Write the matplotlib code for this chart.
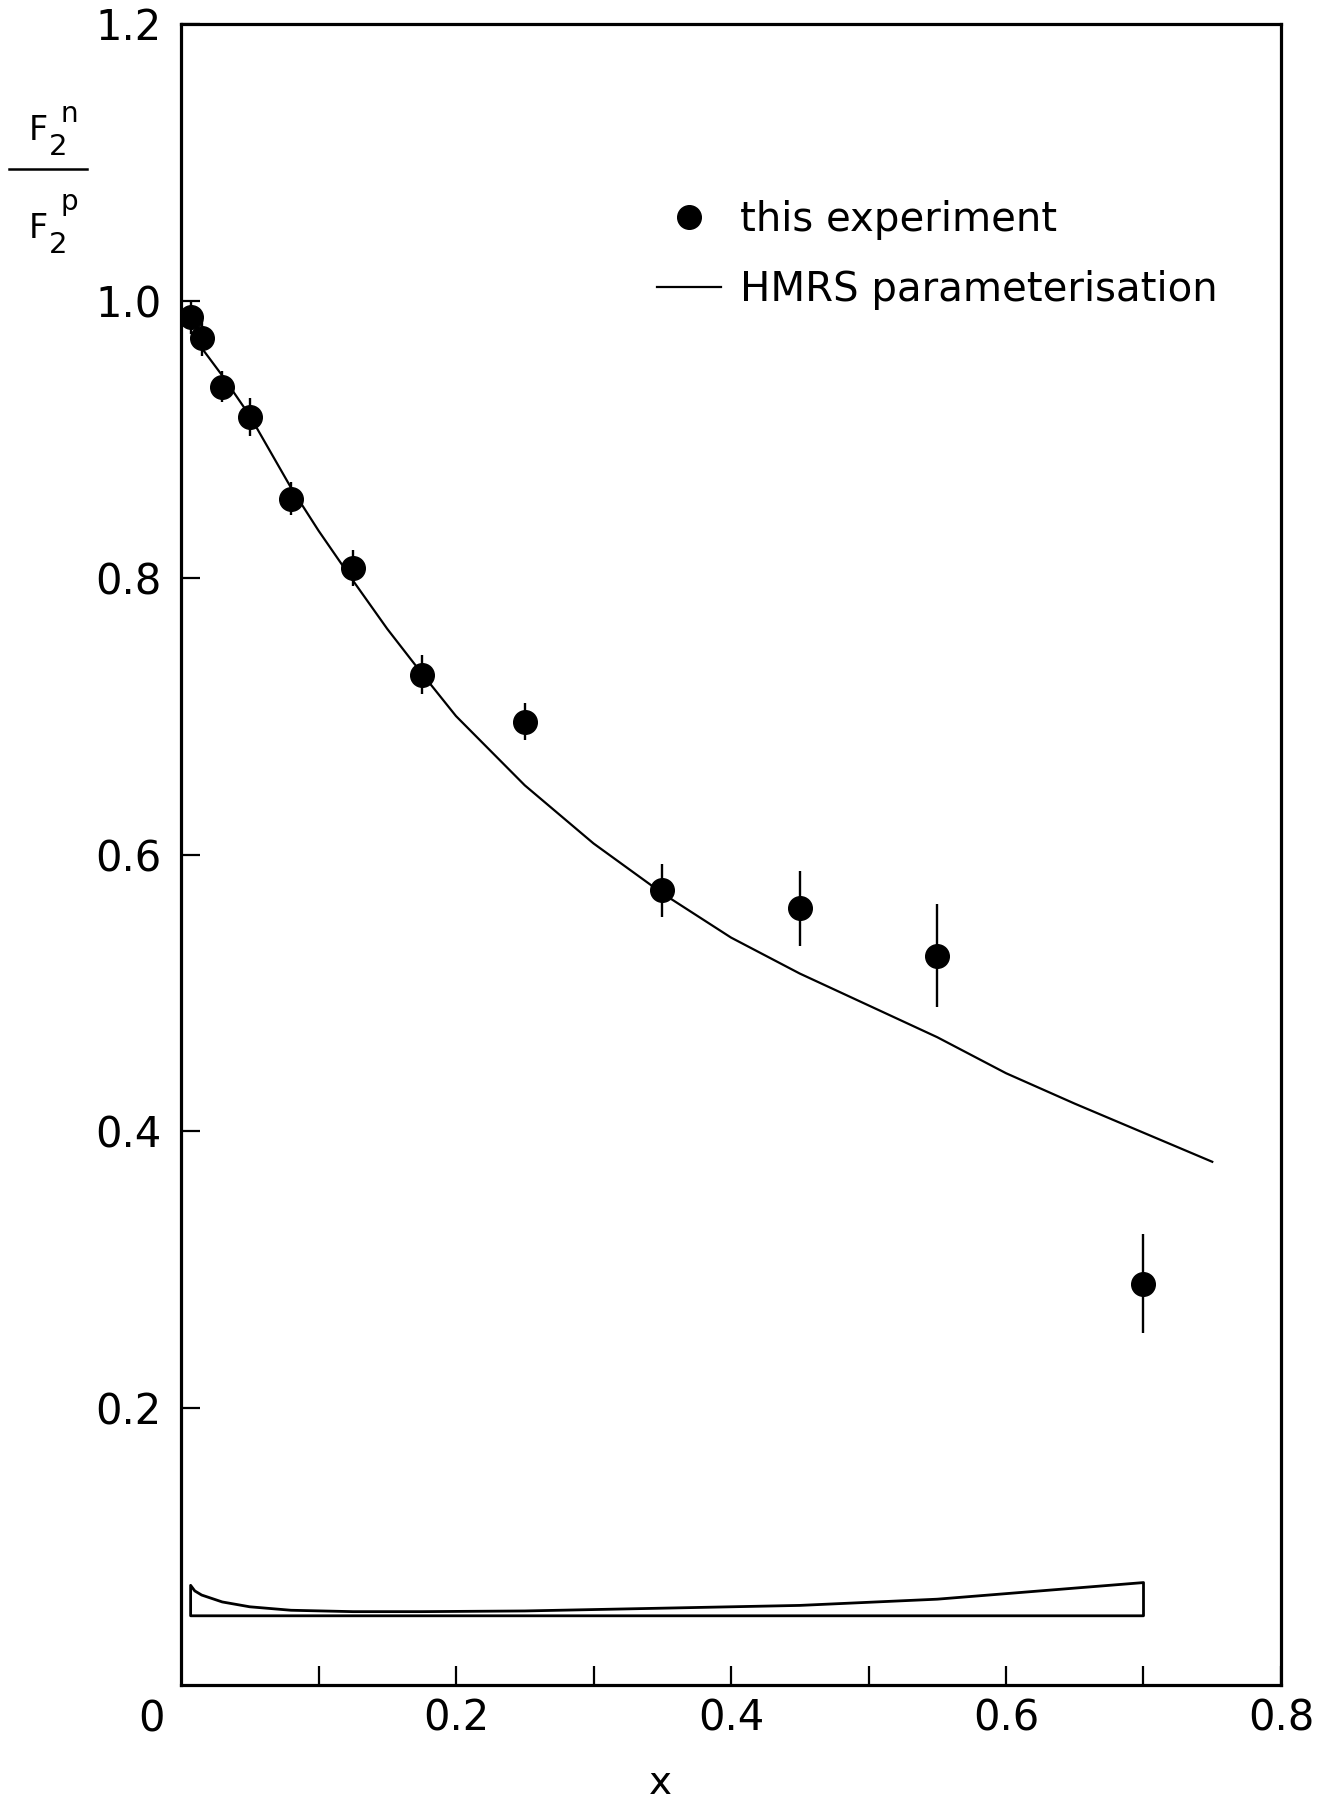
import numpy as np
import matplotlib
matplotlib.use("Agg")
import matplotlib.pyplot as plt
from matplotlib.lines import Line2D

# measured ratio F2n/F2p
x = [0.007, 0.015, 0.03, 0.05, 0.08, 0.125, 0.175, 0.25, 0.35, 0.45, 0.55, 0.70]
ratio = [0.988, 0.973, 0.938, 0.916, 0.857, 0.807, 0.730, 0.696, 0.574, 0.561, 0.527, 0.290]
stat_err = [0.012, 0.013, 0.011, 0.014, 0.012, 0.013, 0.014, 0.0135, 0.019, 0.027, 0.037, 0.036]

# HMRS parameterisation
hmrs_x = [0.015, 0.03, 0.05, 0.08, 0.10, 0.125, 0.15, 0.175, 0.20, 0.25, 0.30,
          0.35, 0.40, 0.45, 0.50, 0.55, 0.60, 0.65, 0.70, 0.75]
hmrs_y = [0.966, 0.946, 0.917, 0.865, 0.834, 0.798, 0.763, 0.731, 0.700, 0.650, 0.608,
          0.572, 0.540, 0.514, 0.491, 0.468, 0.442, 0.420, 0.399, 0.378]

# systematic error band (drawn on a baseline)
sys_base = 0.05
sys_x = [0.007, 0.01, 0.015, 0.03, 0.05, 0.08, 0.125, 0.175, 0.25, 0.35, 0.45, 0.55, 0.70]
sys_err = [0.022, 0.018, 0.015, 0.010, 0.0065, 0.004, 0.003, 0.003, 0.0035, 0.0055, 0.0075, 0.012, 0.024]

tick_font = ['Liberation Sans Narrow', 'DejaVu Sans Condensed', 'DejaVu Sans']

fig = plt.figure(figsize=(13.18, 18.02), dpi=100)
ax = fig.add_axes([181/1318, 117/1802, 1100/1318, 1661/1802])

ax.plot(hmrs_x, hmrs_y, 'k-', lw=1.6)
ax.errorbar(x, ratio, yerr=stat_err, fmt='o', color='k', ms=17, elinewidth=1.7, capsize=0)

lo = np.full(len(sys_x), sys_base)
hi = sys_base + np.array(sys_err)
ax.fill_between(sys_x, lo, hi, facecolor='none', edgecolor='k', lw=2.0)

ax.set_xlim(0, 0.8)
ax.set_ylim(0, 1.2)
for s in ax.spines.values():
    s.set_linewidth(2.3)

xt = np.arange(1, 9) / 10
ax.set_xticks(xt)
ax.set_xticklabels(['', '0.2', '', '0.4', '', '0.6', '', '0.8'])
yt = np.arange(1, 7) * 0.2
ax.set_yticks(yt)
ax.set_yticklabels(['0.2', '0.4', '0.6', '0.8', '1.0', '1.2'])
ax.tick_params(axis='x', direction='in', length=14, width=1.6, pad=9, labelsize=30)
ax.tick_params(axis='y', direction='in', length=14, width=1.6, pad=14, labelsize=30)
for lab in ax.get_xticklabels() + ax.get_yticklabels():
    lab.set_family(tick_font)

ax.annotate('0', xy=(0, 0), xycoords='axes fraction', xytext=(-29, -35),
            textcoords='offset pixels', ha='center', va='center', fontsize=30,
            family=tick_font)

ax.set_xlabel('x', fontsize=28, va='baseline')
ax.xaxis.set_label_coords(0.436, -0.0656)

# y label drawn as a fraction F2n / F2p
def fx(px):
    return px / 1318

def fy(py):
    return 1 - py / 1802

for top, sup in [(0, 'n'), (98, 'p')]:
    fig.text(fx(29), fy(140 + top), 'F', fontsize=24, ha='left', va='baseline')
    fig.text(fx(49), fy(155 + top), '2', fontsize=21, ha='left', va='baseline')
    fig.text(fx(61), fy(122 + top - (10 if sup == 'p' else 0)), sup, fontsize=20,
             ha='left', va='baseline')
fig.add_artist(Line2D([fx(9), fx(87)], [fy(169), fy(169)], color='k', lw=1.8))

handles = [Line2D([], [], marker='o', ls='none', color='k', ms=17),
           Line2D([], [], color='k', lw=1.6)]
ax.legend(handles, ['this experiment', 'HMRS parameterisation'], frameon=False,
          loc='upper left', bbox_to_anchor=(0.4327, 0.894), borderpad=0,
          borderaxespad=0, handlelength=1.6, handletextpad=0.47,
          labelspacing=0.75, fontsize=29)

fig.savefig('out.png', dpi=100)
